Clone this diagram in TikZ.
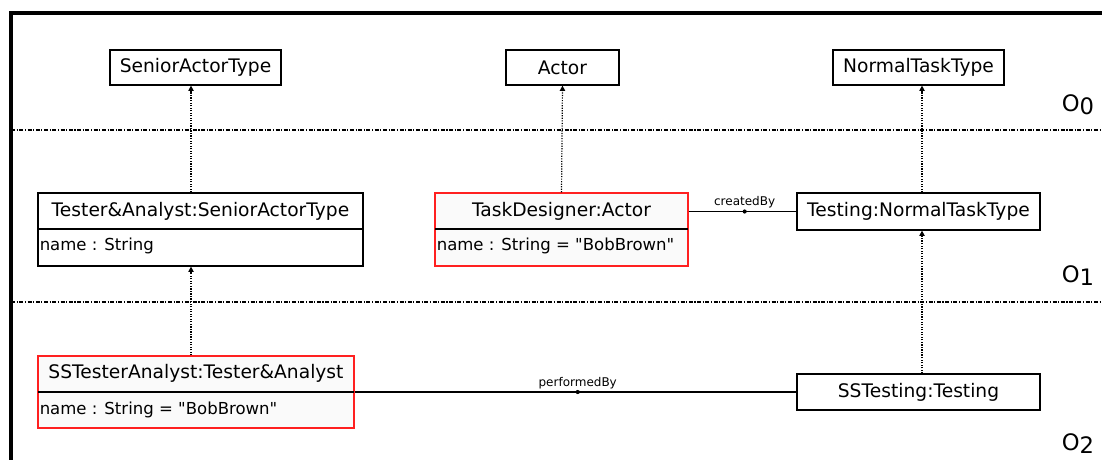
\documentclass[tikz,border=0pt]{standalone}
\usepackage{fontspec}
\setmainfont{DejaVu Sans}[Ligatures=TeXOff]
\usetikzlibrary{arrows.meta}
\definecolor{boxfill}{HTML}{FAFAFA}
\definecolor{redline}{HTML}{FF2020}
\begin{document}
\begin{tikzpicture}[x=0.75pt,y=-0.75pt,
  cls/.style={draw=black,fill=white,line width=0.9pt,inner sep=0pt,font=\fontsize{14}{16}\selectfont},
  objred/.style={draw=redline,fill=boxfill,line width=0.9pt,inner sep=0pt},
  objblk/.style={draw=black,fill=white,line width=0.9pt,inner sep=0pt},
  ttl/.style={inner sep=0pt,font=\fontsize{14}{16}\selectfont},
  attr/.style={inner sep=0pt,anchor=west,font=\fontsize{12.4}{14}\selectfont},
  inst/.style={densely dotted,line width=0.9pt,-{Triangle[width=4pt,length=4pt]}},
  assoc/.style={line width=0.9pt},
  lvl/.style={line width=0.8pt,dash pattern=on 3pt off 1.2pt on 0.8pt off 1.2pt},
  lbl/.style={inner sep=1pt,anchor=south,font=\fontsize{9}{10}\selectfont},
  olbl/.style={inner sep=0pt,font=\fontsize{17}{19}\selectfont}]
\useasboundingbox (0,0) rectangle (1102,460);
\fill[white] (0,0) rectangle (1102,460);
% frame
\draw[line width=2.4pt] (11,470) -- (11,13) -- (1110,13);
% level lines
\coordinate (l1a) at (11,130); \coordinate (l1b) at (1102,130);
\coordinate (l2a) at (11,302); \coordinate (l2b) at (1102,302);
\draw[lvl] (l1a) -- (l1b);
\draw[lvl] (l2a) -- (l2b);
% level labels
\node[olbl] (o0) at (1078,105) {O\raisebox{-2.3pt}{0}};
\node[olbl] (o1) at (1078,276) {O\raisebox{-2.3pt}{1}};
\node[olbl] (o2) at (1078,444) {O\raisebox{-2.3pt}{2}};
% O0 classes
\node[cls,minimum width=128.25pt,minimum height=26.25pt] (sat) at (195.5,67.5) {SeniorActorType};
\node[cls,minimum width=84.75pt,minimum height=26.25pt] (act) at (562.5,67.5) {Actor};
\node[cls,minimum width=128.25pt,minimum height=26.25pt] (ntt) at (918.5,67.5) {NormalTaskType};
% O1
\node[objblk,minimum width=243.75pt,minimum height=54.75pt] (ta) at (200.5,229.5) {};
\node[ttl] (taT) at (200.5,211) {Tester\&Analyst:SeniorActorType};
\node[attr] (taA) at (39.5,246) {name : String};
\draw[line width=0.9pt] (ta.west |- 0,229) -- (ta.east |- 0,229);

\node[objred,minimum width=189.75pt,minimum height=54.75pt] (td) at (561.5,229.5) {};
\node[ttl] (tdT) at (561.5,211) {TaskDesigner:Actor};
\node[attr] (tdA) at (436.5,246) {name : String = "BobBrown"};
\draw[line width=0.9pt] ([xshift=0.45pt]td.west |- 0,229) -- ([xshift=-0.45pt]td.east |- 0,229);

\node[cls,minimum width=182.25pt,minimum height=27.75pt] (tst) at (918.5,211.5) {Testing:NormalTaskType};
% O2
\node[objred,minimum width=237pt,minimum height=54pt] (ssta) at (196,392) {};
\node[ttl] (sstaT) at (196,373.5) {SSTesterAnalyst:Tester\&Analyst};
\node[attr] (sstaA) at (39.5,410) {name : String = "BobBrown"};
\draw[line width=0.9pt] ([xshift=0.45pt]ssta.west |- 0,392) -- ([xshift=-0.45pt]ssta.east |- 0,392);

\node[cls,minimum width=182.25pt,minimum height=27pt] (sst) at (918.5,392) {SSTesting:Testing};
% instance-of arrows
\coordinate (ax1) at (191,0);
\coordinate (ax2) at (922,0);
\draw[inst] (ta.north -| ax1) -- (sat.south -| ax1);
\draw[inst] (td.north) -- (act.south);
\draw[inst] (tst.north -| ax2) -- (ntt.south -| ax2);
\draw[inst] (ssta.north -| ax1) -- (ta.south -| ax1);
\draw[inst] (sst.north -| ax2) -- (tst.south -| ax2);
% associations
\draw[assoc] (td.east |- tst.west) -- node[pos=0.52,circle,fill=black,inner sep=1.1pt] (cbd) {} node[lbl,pos=0.52,yshift=1pt] (cb) {createdBy} (tst.west);
\draw[assoc] (ssta.east |- sst.west) -- node[pos=0.505,circle,fill=black,inner sep=1.1pt] (pbd) {} node[lbl,pos=0.505,yshift=1pt] (pb) {performedBy} (sst.west);
\end{tikzpicture}
\end{document}
